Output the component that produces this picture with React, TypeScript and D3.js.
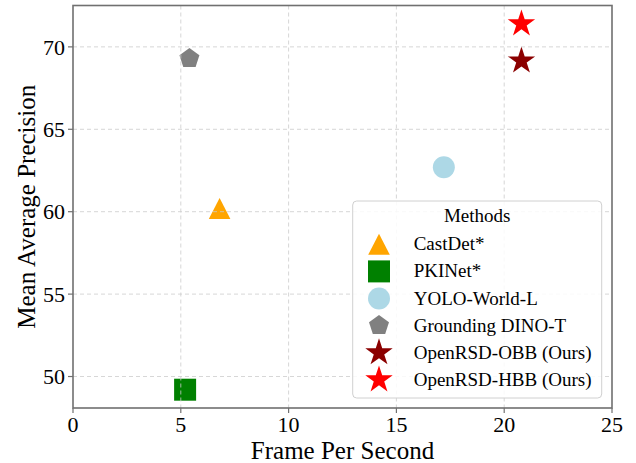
import React, { useEffect } from 'react';
import * as d3 from 'd3';

// methods, fps and mAP
const methods = ['CastDet*', 'PKINet*', 'YOLO-World-L', 'Grounding DINO-T', 'OpenRSD-OBB (Ours)', 'OpenRSD-HBB (Ours)'];
const fps = [6.8, 5.2, 17.2, 5.4, 20.8, 20.8];
const mAP = [60.2, 49.2, 62.7, 69.3, 69.15, 71.4];
const shapes = ['triangle', 'square', 'circle', 'pentagon', 'star', 'star'];
const colors = ['#FFA500', '#008000', '#ADD8E6', '#808080', '#8B0000', '#FF0000'];
const xTicks = [0, 5, 10, 15, 20, 25];
const yTicks = [50, 55, 60, 65, 70];

const font = "'Liberation Serif', 'Times New Roman', serif";

function markerPath(shape: string) {
  const poly = (pts: [number, number][]) => 'M' + pts.map(p => p.join(',')).join('L') + 'Z';
  if (shape === 'square') return poly([[-11, -11], [11, -11], [11, 11], [-11, 11]]);
  if (shape === 'triangle') return poly([[0, -10.5], [10.8, 10.5], [-10.8, 10.5]]);
  if (shape === 'circle') return 'M11,0A11,11 0 1,1 -11,0A11,11 0 1,1 11,0Z';
  if (shape === 'pentagon') {
    const r = 10.5;
    return poly(d3.range(5).map(i => {
      const a = -Math.PI / 2 + (i * 2 * Math.PI) / 5;
      return [r * Math.cos(a), r * Math.sin(a)] as [number, number];
    }));
  }
  const R = 14.4, ri = R * 0.382;
  return poly(d3.range(10).map(i => {
    const a = -Math.PI / 2 + (i * Math.PI) / 5;
    const rr = i % 2 === 0 ? R : ri;
    return [rr * Math.cos(a), rr * Math.sin(a)] as [number, number];
  }));
}

export default function App() {
  useEffect(() => {
    document.body.style.margin = '0';
  }, []);

  const width = 636;
  const height = 463;
  const margin = { top: 5.5, right: 24, bottom: 55, left: 73 };
  const innerW = width - margin.left - margin.right;
  const innerH = height - margin.top - margin.bottom;

  const [ymin, ymax] = d3.extent(mAP) as [number, number];
  const pad = (ymax - ymin) * 0.05;

  const x = d3.scaleLinear().domain([0, 25]).range([0, innerW]);
  const y = d3.scaleLinear().domain([ymin - pad, ymax + pad]).range([innerH, 0]);

  const spine = '#707070';
  const legend = { x: 352.7 - margin.left, y: 201 - margin.top, w: 249, h: 197 };

  return (
    <svg width={width} height={height} style={{ display: 'block', background: '#fff' }} fontFamily={font}>
      <g transform={`translate(${margin.left},${margin.top})`}>
        {fps.map((f, i) => (
          <path key={methods[i]} d={markerPath(shapes[i])} fill={colors[i]}
            transform={`translate(${x(f)},${y(mAP[i])})`} />
        ))}
        {/* grid over markers */}
        <g stroke="#cccccc" strokeOpacity={0.8} strokeDasharray="4,3" strokeWidth={1}>
          {xTicks.slice(1, -1).map(t => (
            <line key={'gx' + t} x1={x(t)} x2={x(t)} y1={0} y2={innerH} />
          ))}
          {yTicks.map(t => (
            <line key={'gy' + t} x1={0} x2={innerW} y1={y(t)} y2={y(t)} />
          ))}
        </g>
        <rect x={0} y={0} width={innerW} height={innerH} fill="none" stroke={spine} strokeWidth={1.6} />
        {xTicks.map(t => (
          <g key={'xt' + t} transform={`translate(${x(t)},${innerH})`}>
            <line y2={5} stroke={spine} strokeWidth={1.2} />
            <text y={24} textAnchor="middle" fontSize={22} fill="#000">{t}</text>
          </g>
        ))}
        {yTicks.map(t => (
          <g key={'yt' + t} transform={`translate(0,${y(t)})`}>
            <line x2={-5} stroke={spine} strokeWidth={1.2} />
            <text x={-8} dy="0.35em" textAnchor="end" fontSize={22} fill="#000">{t}</text>
          </g>
        ))}
        <text x={innerW / 2} y={innerH + 51} textAnchor="middle" fontSize={25} fill="#000">Frame Per Second</text>
        <text transform={`translate(${-38},${innerH / 2}) rotate(-90)`} textAnchor="middle" fontSize={25} fill="#000">Mean Average Precision</text>

        <g transform={`translate(${legend.x},${legend.y})`}>
          <rect width={legend.w} height={legend.h} rx={4} fill="#fff" fillOpacity={0.85} stroke="#d0d0d0" strokeWidth={1} />
          <text x={legend.w / 2} y={21} textAnchor="middle" fontSize={19} fill="#000">Methods</text>
          {methods.map((m, i) => (
            <g key={'lg' + m} transform={`translate(0,${43.3 + i * 27.1})`}>
              <path d={markerPath(shapes[i])} fill={colors[i]} transform="translate(26.3,0)" />
              <text x={61} dy="0.32em" fontSize={19} fill="#000">{m}</text>
            </g>
          ))}
        </g>
      </g>
    </svg>
  );
}
